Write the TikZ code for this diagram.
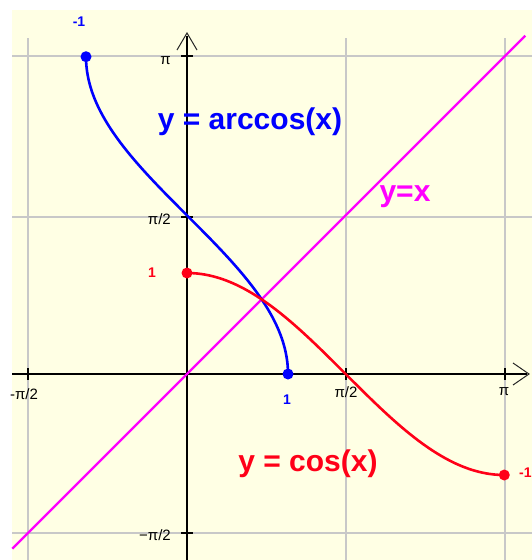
\documentclass[tikz,border=0pt]{standalone}
\usepackage{fontspec}
\setmainfont{Liberation Sans}
\definecolor{bgyellow}{RGB}{255,255,228}
\definecolor{gridgray}{RGB}{200,200,200}
\definecolor{cblue}{RGB}{0,0,255}
\definecolor{cred}{RGB}{255,0,24}
\definecolor{cmag}{RGB}{255,0,255}
\begin{document}
\begin{tikzpicture}[x=1pt,y=-1pt,
  gridline/.style={draw=gridgray, line width=1.2pt},
  axisline/.style={draw=black, line width=1.3pt},
  chev/.style={draw=black!85, line width=1pt},
  tickmark/.style={draw=black, line width=1.3pt},
  ticklbl/.style={font=\fontsize{15}{15}\selectfont, text=black, inner sep=0pt},
  smalllbl/.style={font=\bfseries\fontsize{14}{14}\selectfont, inner sep=0pt},
  biglbl/.style={font=\bfseries\fontsize{30}{30}\selectfont, inner sep=0pt},
  dot/.style={circle, inner sep=0pt, minimum size=11pt}]
\useasboundingbox (0,0) rectangle (532,560);
\fill[bgyellow] (12,10) rectangle (532,560);
% grid
\draw[gridline] (28,38) -- (28,560);
\draw[gridline] (346,38) -- (346,560);
\draw[gridline] (505,38) -- (505,560);
\draw[gridline] (12,56) -- (532,56);
\draw[gridline] (12,217) -- (532,217);
\draw[gridline] (12,533) -- (532,533);
% axes
\coordinate (xs) at (12,374);
\coordinate (xe) at (527,374);
\coordinate (ys) at (187,560);
\coordinate (ye) at (187,36);
\draw[axisline] (xs) -- (xe);
\draw[axisline] (ys) -- (ye);
\coordinate (xa1) at (513,363);
\coordinate (xtip) at (529,374);
\coordinate (xa2) at (513,385);
\draw[chev] (xa1) -- (xtip) -- (xa2);
\coordinate (ya1) at (177,50);
\coordinate (ytip) at (187,33);
\coordinate (ya2) at (197,50);
\draw[chev] (ya1) -- (ytip) -- (ya2);
% ticks
\foreach \xx in {28,346,505} \draw[tickmark] (\xx,368) -- (\xx,380);
\foreach \yy in {56,217,533} \draw[tickmark] (181,\yy) -- (193,\yy);
% tick labels
\node[ticklbl, anchor=east] (lyp) at (171,61) {π};
\node[ticklbl, anchor=east] (lyh) at (171,219) {π/2};
\node[ticklbl, anchor=east] (lymh) at (171,535) {−π/2};
\node[ticklbl] (lxmh) at (24,394) {-π/2};
\node[ticklbl] (lxh) at (346,392) {π/2};
\node[ticklbl] (lxp) at (504,392) {π};
% curves
\begin{scope}[shift={(187,374)}, x=101pt, y=101pt]
  \draw[cmag, line width=2.4pt] (-1.73,-1.73) -- (3.35,3.35);
  \draw[cblue, line width=2.6pt] plot[domain=0:pi, samples=150, variable=\t] ({cos(\t r)}, {\t});
  \draw[cred, line width=2.6pt] plot[domain=0:pi, samples=150, variable=\t] ({\t}, {cos(\t r)});
  \node[dot, fill=cblue] (bdA) at (-1,{pi}) {};
  \node[dot, fill=cblue] (bdB) at (1,0) {};
  \node[dot, fill=cred] (rdA) at (0,1) {};
  \node[dot, fill=cred] (rdB) at ({pi},-1) {};
\end{scope}
% value labels
\node[smalllbl, text=cblue] (lbm1) at (79,22) {-1};
\node[smalllbl, text=cblue] (lb1) at (287,400) {1};
\node[smalllbl, text=cred] (lr1) at (152,273) {1};
\node[smalllbl, text=cred, anchor=west] (lrm1) at (519,473) {-1};
% function labels
\node[biglbl, text=cblue] (farc) at (250,122) {y = arccos(x)};
\node[biglbl, text=cmag] (fid) at (405,197) {y=x};
\node[biglbl, text=cred] (fcos) at (308,464) {y = cos(x)};
\end{tikzpicture}
\end{document}
